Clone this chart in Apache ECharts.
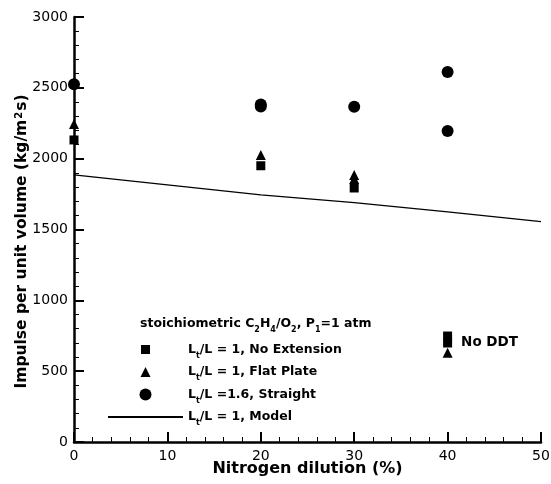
<!DOCTYPE html>
<html>
<head>
<meta charset="utf-8">
<script src="https://cdn.jsdelivr.net/npm/echarts@6/dist/echarts.min.js"></script>
<style>
  html, body { margin: 0; padding: 0; background: #fff; }
  #main { width: 551px; height: 484px; }
</style>
</head>
<body>
<div id="main"></div>
<script>
// values, x = nitrogen dilution (%), y = impulse (kg/m2s)
const noExtension = [[0, 2132], [20, 1950], [30, 1793], [40, 748], [40, 699]];
const flatPlate = [[0, 2245], [20, 2026], [30, 1885], [30, 1856], [40, 630]];
const straight = [[0, 2526], [20, 2382], [20, 2368], [30, 2367], [40, 2612], [40, 2195]];
const modelX = [0, 10, 20, 30, 40, 50];
const modelY = [1885, 1815, 1745, 1690, 1625, 1555];
const noDdtIndex = 4; // the lower square at 40 % carries the note
const noDdtText = 'No DDT';

const FONT = 'DejaVu Sans';
const legendRich = {
  n: { fontFamily: FONT, fontWeight: 'bold', fontSize: 12.5, color: '#000', lineHeight: 14 },
  s: { fontFamily: FONT, fontWeight: 'bold', fontSize: 8, color: '#000', lineHeight: 14, verticalAlign: 'bottom', padding: [0, 0, -3, 0] }
};

const legendLabels = {
  'No Extension': '{n|L}{s|t}{n|/L = 1, No Extension}',
  'Flat Plate': '{n|L}{s|t}{n|/L = 1, Flat Plate}',
  'Straight': '{n|L}{s|t}{n|/L =1.6, Straight}',
  'Model': '{n|L}{s|t}{n|/L = 1, Model}'
};

// legend icons drawn inside the full 75x12 icon box so they are not stretched
const squareIcon = 'path://M0,0M75,12M33,1.5h9v9h-9z';
const triangleIcon = 'path://M0,0M75,12M37.5,1L42.5,11L32.5,11z';

const chart = echarts.init(document.getElementById('main'));

chart.setOption({
  animation: false,
  backgroundColor: '#fff',
  title: {
    text: '{n|stoichiometric C}{s|2}{n|H}{s|4}{n|/O}{s|2}{n|, P}{s|1}{n|=1 atm}',
    left: 140,
    top: 317,
    padding: 0,
    textStyle: { rich: legendRich }
  },
  legend: {
    orient: 'vertical',
    left: 107,
    top: 343,
    itemWidth: 75,
    itemHeight: 12,
    itemGap: 6,
    padding: 0,
    symbolKeepAspect: true,
    data: [
      { name: 'No Extension', icon: squareIcon },
      { name: 'Flat Plate', icon: triangleIcon },
      { name: 'Straight', icon: 'circle' },
      { name: 'Model', itemStyle: { opacity: 0 } }
    ],
    formatter: name => legendLabels[name],
    textStyle: { rich: legendRich, padding: [0, 0, 0, 0] }
  },
  grid: { left: 74, right: 10, top: 17, bottom: 42, containLabel: false, outerBoundsMode: 'none' },
  xAxis: {
    type: 'value',
    min: 0,
    max: 50,
    interval: 10,
    name: 'Nitrogen dilution (%)',
    nameLocation: 'middle',
    nameGap: 19,
    nameMoveOverlap: false,
    nameTextStyle: { fontFamily: FONT, fontWeight: 'bold', fontSize: 16, color: '#000' },
    axisLine: { show: true, onZero: false, lineStyle: { color: '#000', width: 2.5 } },
    axisTick: { show: true, inside: true, length: 10, lineStyle: { color: '#000', width: 2 } },
    minorTick: { show: true, splitNumber: 5, length: 5, lineStyle: { color: '#000', width: 1 } },
    axisLabel: { margin: 7, fontFamily: FONT, fontSize: 14, color: '#000', formatter: v => String(v) },
    splitLine: { show: false },
    minorSplitLine: { show: false }
  },
  yAxis: {
    type: 'value',
    min: 0,
    max: 3000,
    interval: 500,
    name: 'Impulse per unit volume (kg/m{sup|2}s)',
    nameLocation: 'middle',
    nameGap: 44,
    nameMoveOverlap: false,
    nameTextStyle: {
      fontFamily: FONT, fontWeight: 'bold', fontSize: 15.5, color: '#000',
      padding: [0, 24, 0, 0],
      rich: { sup: { fontFamily: FONT, fontWeight: 'bold', fontSize: 10, color: '#000', verticalAlign: 'top', padding: [0, 1, 6, 1] } }
    },
    axisLine: { show: true, onZero: false, lineStyle: { color: '#000', width: 2.5 } },
    axisTick: { show: true, inside: true, length: 10, lineStyle: { color: '#000', width: 2 } },
    minorTick: { show: true, splitNumber: 5, length: 5, lineStyle: { color: '#000', width: 1 } },
    axisLabel: { margin: 6, fontFamily: FONT, fontSize: 14, color: '#000', formatter: v => String(v) },
    splitLine: { show: false },
    minorSplitLine: { show: false }
  },
  series: [
    {
      name: 'No Extension',
      type: 'scatter',
      symbol: 'rect',
      symbolSize: 9,
      clip: false,
      itemStyle: { color: '#000', opacity: 1 },
      data: noExtension.map((p, i) => i === noDdtIndex ? {
        value: p,
        label: {
          show: true,
          position: 'right',
          distance: 9,
          offset: [0, 0],
          formatter: noDdtText,
          fontFamily: FONT, fontWeight: 'bold', fontSize: 13.5, color: '#000'
        }
      } : p)
    },
    {
      name: 'Flat Plate',
      type: 'scatter',
      symbol: 'triangle',
      symbolSize: 10,
      clip: false,
      itemStyle: { color: '#000', opacity: 1 },
      data: flatPlate
    },
    {
      name: 'Straight',
      type: 'scatter',
      symbol: 'circle',
      symbolSize: 12,
      clip: false,
      itemStyle: { color: '#000', opacity: 1 },
      data: straight
    },
    {
      name: 'Model',
      type: 'line',
      symbol: 'none',
      showSymbol: false,
      smooth: false,
      itemStyle: { color: '#000' },
      lineStyle: { color: '#000', width: 1.2 },
      data: modelX.map((x, i) => [x, modelY[i]])
    }
  ]
});
</script>
</body>
</html>
